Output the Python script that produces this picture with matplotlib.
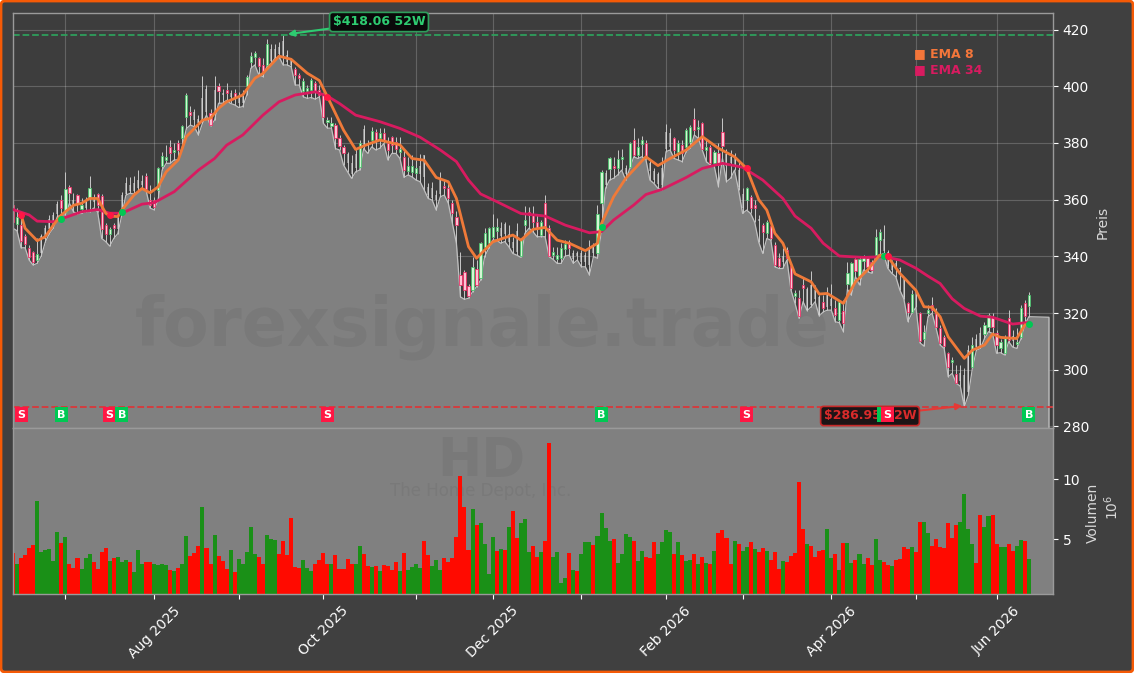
import matplotlib
matplotlib.use("Agg")
import matplotlib.pyplot as plt
from matplotlib.patches import FancyBboxPatch
from matplotlib.transforms import IdentityTransform

# Kursdaten
opens = [358,351.4,351,347,343.1,341.6,338.7,341,346,349.5,351,355,360,355.7,364.3,360,361.6,356.6,359.5,360.4,
         359,362,361.3,351,347.7,351,349.5,355.5,362,363,363,364,365,368.3,360,360,363.4,372,374,378.6,
         376.8,380,381.6,389.2,391,388,387,388,399,390.4,390.5,400,397,398.6,396.3,397.5,394,394,400,408.4,
         410.2,409.8,407.5,407.5,409,410,414,416,411,409.8,406,404,398.4,398.4,398.6,401.2,398.6,396.9,387.5,386,
         386.3,381.6,378.6,376,372.8,371,371.5,379,379,381,383.7,381.6,383.4,379.8,382,380.4,376.7,375.1,370.2,369.8,
         369.5,369,375.7,364.5,364,360,362,364.8,364,358.7,354,333.4,334.6,329.6,328.1,335.4,332.2,343.4,344.8,346.7,
         349,347,351.5,345,345,341.5,340,351,355.7,354.5,352.2,347.5,358.7,349.9,340.4,339,339.5,342.5,345.2,339,
         341,338,340.5,337,343.5,341,358.7,365,370.7,372,371,374.2,369,371.6,381.2,375.7,379.6,379.8,372.8,370,
         369,365,378,378.5,381.6,376.9,379.2,378.7,380.4,388.3,384.8,386.9,377.5,378.4,372.8,376.3,383.7,376,373,372,
         370.4,357,360,361,358,353,351,348.3,350.7,344,339.3,338,342.4,336.6,326.1,325.4,329.9,321,323,325,
         325.7,324,322,322.5,321.6,317.5,320.8,330.4,329.3,338.9,333,338.4,339.3,337.9,340.4,345.7,346,341.5,337.5,337.5,
         336,332,323.4,320.5,328,319.9,311,319.9,323,320.5,314.6,311.6,305.8,302.6,298.5,296,289,292,301,308,
         312.8,312.6,315.2,318.5,313,307.5,306,318.1,312,309,311.6,323.6,322.4]
highs = [359.9,357,353,348,344,342,346.3,348,351,354.6,355.7,359.6,361.6,369.8,365,362.2,362,360.4,361,368.3,
         362,362.2,362,351.6,350.4,351.6,355.2,362.8,368,368,368.5,370.4,368.7,369.5,365,361,371.6,376.9,379.2,381,
         379.8,381,386.3,397.5,393,392,389.8,403.6,400.4,392,403.6,401,399,401.2,398.6,398.9,398,398.6,403.9,412.2,
         412.5,410.4,409.8,416.5,415,415,415.7,418.06,412.8,410,406.9,404.5,402.8,400.4,403,402,400.4,397.5,389.2,389.2,
         386.9,382.8,379.2,376.9,375.7,378,381,386.3,381,385.7,385,385.1,385.1,382.2,382.4,382.2,382.2,377.5,375.1,375.7,
         374,376,375.7,365.7,366.3,363.4,369.8,366.9,366.3,359.8,355.9,341.6,335.1,330.4,339.9,338.7,345.2,349.9,350.4,354.9,
         353.4,352,352.2,351,346.9,351.6,346.3,357.7,357.5,357.7,354.6,352.8,361.6,351,343.4,343.4,344.6,345.7,345.7,342.2,
         342,342.2,341.6,345.7,344.6,358.1,370.4,370.4,375.1,375.1,377.5,377.7,372.2,380.4,385.1,381.6,382.4,381.2,373.9,371,
         369.8,375.1,386.7,385.1,382,381.2,381,385.1,386.3,392.2,388,387.5,381,379.2,377.5,379.8,388.7,378,377.5,376.3,
         373.4,364,364.6,361.6,360,354.6,351.6,352.8,351.6,345.2,341,342.8,343.4,337.5,328.1,328.1,332.2,329.3,334.9,329.9,
         326.3,326.3,329.3,330.4,324.6,324.6,324.6,338.1,338.1,339.3,339.9,340.4,340.1,338.7,349.5,349.5,351,342.2,338.7,338.7,
         336.3,332.2,324,328.1,328,320.5,315.8,322.8,325.5,321.6,315.8,312.2,306.3,304.6,301.6,301.6,300.5,308.7,311.6,312.6,
         314.9,316.9,319.9,319.9,314,311,312.2,321,314,314.6,322.8,324.6,327.5]
lows = [349.9,349,343,343,338.7,336.9,337.5,340,345,348,349.9,354,354.6,354.6,358.7,355.7,355,355.1,355.7,355.7,
        357,355.7,346.3,345.2,343.6,346.3,348,354.6,361.6,362.2,362,362.8,364,363.4,357,356.4,359.8,370.4,372.8,372.8,
        374,374,378.6,385,386.3,385.7,382.8,386.9,389.8,386,388,394,394,395,393.9,393.4,392.5,392.8,396.9,406.3,
        407.5,404,403.4,406.9,408,409.8,410.4,407.5,407.5,406.9,400.4,400.4,396.3,395.7,396,395.4,396.3,386.9,385.2,385.2,
        378,377.5,372.2,369.8,367.5,369.8,370.4,378,376.3,378.6,377.5,378.1,379.8,374,376.3,376.3,374.5,367.8,368.7,368,
        366.9,366.3,363.4,360.4,359.8,356.3,361,361.6,358.7,351.6,344.6,325.7,324.8,325.2,327.5,329.3,331.6,339.9,342.8,345.7,
        345.7,344.6,345.2,343.4,341,340.4,339.6,348.1,349.9,348.7,346.9,346.9,346.9,339.9,338.9,337.5,337.5,340.1,340.4,337.5,
        338.7,336.3,336.3,333.4,339.9,339.3,349.3,364,366.9,367.5,368.7,370.4,366.9,371,375.1,374.5,375.1,374.2,366.9,365.7,
        364,363.4,376.9,377.5,374.5,374,373.4,376.9,378.1,382.8,381.6,377.5,373.4,372.2,371.6,364.6,374.5,366.3,367.5,370.4,
        363.4,355.1,356.3,355.1,352,345,341,346.3,345.7,336.3,335.7,335.7,338.7,328.1,323.4,318.1,324,320.8,322.2,324,
        318.9,320.4,321,321,316.9,316.6,313.4,328.3,326.3,332.8,329.9,335.2,334.6,334,340.1,340.4,341,335.8,334,332.8,
        328.1,325,317,319.9,322,309.5,308.3,318.7,319.9,314.6,308.7,307.5,297.5,298.7,295.2,294.2,286.95,291,300.5,306.9,
        307.5,311,313.4,312.8,305.8,306,305.2,309.9,308,307.5,310.7,315.8,318.7]
closes = [352,353.9,345.5,344.3,339.9,338,340.7,347,350,353,354.5,358.5,357,363.6,362.4,358,358.7,358,357,364,
          361,358,349.5,348,349.8,350,354,361.5,366,365,366,367,366.5,363.6,358,357.5,371,375.5,375,376.3,
          377.6,377.5,386,396.9,389.8,391,388.5,396,391,386.3,398.5,398.4,397.5,397.7,397.5,396.3,395.7,396.5,403.4,410.6,
          411.6,407.1,404.8,414.9,413,413,411.5,410,408.5,407.5,404,402.8,401.8,399.2,402.2,398,396.9,389,388.2,387.1,
          381.6,379,376.3,372.8,369.2,376,380,385,380,384.2,381,383.4,381,377.5,379.3,377.7,378,370.4,372,372,
          371,372,368,361.6,360.4,361.5,367,364,360.4,355.1,351,329.9,328.1,326,336.3,329.9,344.6,348.3,349.9,350.2,
          350.2,350,348,348,343,349,345.7,352.8,354.5,352.2,349.9,352.2,349.9,340.2,341.6,340.4,342.8,344.3,342.8,341,
          340,341,338,343,341,354.9,369.8,369.5,374.5,371,374.2,375,371,379.8,375.7,378.7,381.2,375.1,370,367,
          365.5,371,384,383.5,377.5,379.8,376.3,384.5,385.5,384.5,385.7,377.7,378.7,373,376.9,372.2,378.9,372,375,375,
          364.5,362,364,356.9,357,352.5,348.7,352.2,346.3,337,336.6,340,339.3,328.7,326.9,318.9,328.7,328.5,330,328,
          319.3,321.6,327,325,319.3,324,316.6,334,337.5,334.9,338.9,340.1,336.3,335.2,346.9,348.7,342,336.5,335,335.5,
          335.5,325.5,320.5,326.7,322.2,310.2,313.4,321,321,315.2,309.3,308.5,300.8,303.4,295.4,299,298,307,308.7,311,
          308.1,315.8,319.3,314.9,308.7,309.9,311.6,310.5,310,309.9,321.6,318.9,326.3]

# Kerzen, die im Bild nur blass zu sehen sind
faint_idx = [7,8,9,10,11,15,18,20,26,27,28,29,30,31,32,45,46,47,48,50,52,54,56,57,64,65,66,67,68,69,83,84,85,87,88,
             101,102,103,104,105,106,121,122,123,124,125,139,140,141,142,143,144,147,152,158,159,160,161,162,163,
             177,178,179,180,181,185,191,197,198,199,200,202,203,216,217,218,219,220,221,224,235,236,237,239,240,248]

# Volumen in Mio.
volumes = [3.83,2.9,3.4,3.67,4.25,4.5,8.17,3.9,4.08,4.17,3.17,5.58,4.67,5.17,2.96,2.58,3.4,2.5,3.4,3.75,
           3.08,2.5,3.9,4.25,3.17,3.4,3.5,3.08,3.25,3.08,2.25,4.08,2.92,3.08,3.08,2.96,2.8,2.92,2.8,2.42,
           2.33,2.58,2.92,5.25,3.58,3.83,4.42,7.67,4.25,2.92,5.33,3.58,3.17,2.5,4.08,2.25,3.33,2.96,3.9,6,
           3.75,3.5,2.92,5.33,5,4.92,3.75,4.83,3.67,6.75,2.67,2.58,3.25,2.58,2.33,2.96,3.25,3.83,2.96,2.96,
           3.67,2.5,2.5,3.33,2.96,2.92,4.42,3.75,2.75,2.67,2.75,2.33,2.83,2.75,2.42,3.08,2.33,3.83,2.42,2.67,
           2.92,2.58,4.83,3.67,2.75,3.25,2.42,3.42,3.08,3.42,5.17,10.25,7.67,4.08,7.5,6.17,6.33,4.58,2.08,5.17,
           4,4.17,4.08,6,7.33,5.08,6.33,6.67,3.92,4.42,3.5,3.92,4.83,13,3.5,3.92,1.33,1.75,3.83,2.42,
           2.33,3.75,4.75,4.75,4.5,5.25,7.17,5.92,4.83,5,3,3.75,5.42,5.17,4.83,3.17,4,3.5,3.42,4.75,
           3.75,4.75,5.75,5.58,3.75,4.75,3.67,3.17,3.25,3.75,2.92,3.5,3,2.92,4,5.5,5.75,5.08,2.92,4.83,
           4.58,4,4.33,4.75,4.17,3.9,4.25,4,3.25,3.92,2.5,3.17,3.08,3.58,3.83,9.75,5.83,4.58,4.42,3.5,
           4,4.08,5.83,3.42,3.75,2.42,4.67,4.67,3,3.25,3.75,2.92,3.42,2.83,5,3.25,3.08,2.83,2.75,3.25,
           3.33,4.33,4.17,4.33,3.92,6.42,6.42,5.5,4.42,5,4.33,4.25,6.33,5.08,6.17,6.42,8.75,5.83,4.58,3,
           7,6,6.92,7,4.58,4.33,4.33,4.58,4,4.42,4.92,4.83,3.33]
vol_colors = ("rgrrrrgggg" "ggrgrrrggg" "rrrrgrgggr" "gggrrggggr" "grggrrrgrr"
              "grrrgrgggg" "grrgggrrrr" "rrgggrrrrg" "rrrrrggrrg" "rgrrrrgrgg"
              "ggrrgggrrr" "rrrrgrgggg" "rgrgrrgggr" "rgrrggggrg" "rgggrggggr"
              "ggggrggrrr" "ggggrgrggr" "grgrgrrrrg" "rggrgrrgrr" "rgrrrrrgrr"
              "rrggrgrggr" "ggrrggrrgr" "rrrgrrggrr" "rrrrrggggr" "rggrrggrrg" "grg")

# EMA-Linien, Stuetzpunkte aus dem Bild
ema8_x = [2,3,6,8,10,12,15,17,19,21,23,24,26,27,30,32,34,36,38,41,43,45,47,49,51,53,57,60,62,66,69,73,76,78,82,85,
          88,91,96,99,102,105,108,110,113,115,119,124,126,129,132,135,138,142,145,146,149,152,157,160,163,167,171,
          175,179,182,185,187,189,191,194,198,200,202,206,209,212,215,217,220,222,224,226,228,230,232,236,238,241,
          243,245,249,251,252]
ema8_y = [354.6,349.9,345.5,346.9,351,354.6,358,358.7,360.4,360.4,355.2,354.2,354,356.3,361.6,363.9,362.4,364.5,369.8,374,
          382.2,385.1,388,388.7,392.2,394.5,396.9,402.8,404.5,410.6,409.5,404.6,402,396.3,384.5,377.7,
          379.5,381,379.3,374.5,373.9,367.8,366.3,360.4,343.4,339.3,345.1,347.5,345.7,349.5,350.2,345.7,344.6,342,344.6,351.6,
          361,367.5,375.1,372,374.5,377.5,382.2,378.1,375.1,371,360,356.3,348.1,344.6,333.8,331,326.7,326.9,323.4,331,335.2,
          340.4,339.9,334,331,328,322.2,322,318.7,311.6,304,306.9,308.7,312.6,311.4,311,315.8,316]
ema34_x = [0,4,6,10,12,17,21,24,27,32,35,40,46,50,53,57,62,66,70,75,78,81,85,91,96,101,106,110,113,116,120,126,132,137,
           143,146,149,154,157,161,167,171,176,181,186,191,194,198,201,205,211,216,220,224,227,230,233,236,240,243,248,252]
ema34_y = [356.5,354.6,352.4,352.2,353.2,355.7,356.5,355.2,355.2,358.4,358.9,362.8,370.4,374.5,379.2,382.8,389.8,394.5,396.9,
           398,396.5,393.9,389.8,387.5,385.1,382,377.5,373.4,366.9,362,359.3,355.1,354.2,351,348.3,348.7,352.8,358.1,361.8,363.6,
           367.8,371,372.8,371.4,366.9,360.4,354.2,349.9,344.6,340.1,339.6,339.9,338.7,335.8,333,330.4,325,321.6,318.9,318.5,316.1,316.7]

# Signale: Index, Kurs am Kreuzungspunkt, Typ
signal_idx = [2,12,24,27,78,146,182,216,217,252]
signal_price = [354.6,353,354.6,355.5,396.3,350.5,371,340,340,316]
signal_type = ["S","B","S","B","S","B","S","B","S","B"]

month_idx = [13,35,56,77,100,119,141,162,181,203,224,244]
month_labels = ["", "Aug 2025", "", "Oct 2025", "", "Dec 2025", "", "Feb 2026", "", "Apr 2026", "", "Jun 2026"]

high_52w = 418.06
low_52w = 286.95
area_end = 257
area_level = 318.5

W, H = 1134, 673
BG = "#404040"
GRAY = "#808080"
GREEN = "#00c853"
RED = "#ff1744"
ORANGE = "#ef7a39"
CRIMSON = "#d81b60"


def px(x0, ytop, x1, ybot):
    return [x0 / W, 1 - ybot / H, (x1 - x0) / W, (ybot - ytop) / H]


fig = plt.figure(figsize=(W / 100, H / 100), dpi=100, facecolor="white")
fig.add_artist(FancyBboxPatch((1, 1), W - 2, H - 2, boxstyle="round,pad=0,rounding_size=4",
                              fc=BG, ec="#f55a06", lw=2, transform=IdentityTransform(), zorder=-10))

ax = fig.add_axes(px(13, 13, 1053, 428), facecolor="#3d3d3d")
ax2 = fig.add_axes(px(13, 428, 1053, 594), facecolor=GRAY, sharex=ax)

idx = list(range(len(closes)))

# Flaeche unter den Tiefs
ax.fill_between(idx + [area_end], lows + [area_level], 270, color=GRAY, lw=0, zorder=1.5)
ax.plot(idx + [area_end, area_end], lows + [area_level, 270], color="#c0c0c0", lw=0.9, zorder=1.6)

ax.text(0.451, 0.245, "forexsignale.trade", transform=ax.transAxes, ha="center", va="center",
        fontsize=48, fontweight="bold", color="black", alpha=0.05, zorder=1.7)

# Kerzen
ax.vlines(idx, lows, highs, color="#c8c8c8", lw=0.7, zorder=2)
solid = [i for i in idx if i not in faint_idx]
up = [i for i in solid if closes[i] >= opens[i]]
down = [i for i in solid if closes[i] < opens[i]]
ax.bar(up, [closes[i] - opens[i] for i in up], bottom=[opens[i] for i in up], width=0.55,
       color="#d4f7d4", edgecolor="#45c46a", lw=0.55, zorder=2.2)
ax.bar(down, [opens[i] - closes[i] for i in down], bottom=[closes[i] for i in down], width=0.55,
       color="#fbc4d4", edgecolor="#ee2a62", lw=0.55, zorder=2.2)
ax.bar(faint_idx, [abs(closes[i] - opens[i]) for i in faint_idx], bottom=[min(opens[i], closes[i]) for i in faint_idx],
       width=0.5, color="#dcdcdc", alpha=0.5, lw=0, zorder=2.1)

ax.plot(ema34_x, ema34_y, color=CRIMSON, lw=2, zorder=3)
ax.plot(ema8_x, ema8_y, color=ORANGE, lw=2, zorder=3.1)

ax.axhline(high_52w, color="#2e9e5b", ls="--", lw=1.3, zorder=2.5)
ax.axhline(low_52w, color="#d9373a", ls="--", lw=1.3, zorder=2.5)

ax.annotate("$418.06 52W", xy=(68.2, high_52w + 0.3), xytext=(379, H - 22), textcoords="figure pixels",
            ha="center", va="center", color="#2ecc71", fontsize=9, fontweight="bold", zorder=6,
            bbox=dict(boxstyle="round,pad=0.25", fc="#0a0a0a", ec="#2e9e5b", lw=1.2),
            arrowprops=dict(arrowstyle="-|>", color="#2ecc71", lw=1.5, shrinkA=0, shrinkB=0))
ax.annotate("$286.95 52W", xy=(235.5, low_52w + 0.3), xytext=(870, H - 416), textcoords="figure pixels",
            ha="center", va="center", color="#d92b2b", fontsize=9, fontweight="bold", zorder=6,
            bbox=dict(boxstyle="round,pad=0.25", fc="#1c1416", ec="#c62828", lw=1.2),
            arrowprops=dict(arrowstyle="-|>", color="#e53935", lw=1.5, shrinkA=0, shrinkB=0))

for i, p, t in zip(signal_idx, signal_price, signal_type):
    c = GREEN if t == "B" else RED
    ax.plot(i, p, "o", color=c, ms=4, zorder=4)
    ax.text(i, 284.2, t, color="white", fontsize=8, fontweight="bold", ha="center", va="center", zorder=7,
            bbox=dict(boxstyle="square,pad=0.22", fc=c, ec="none"))

fig.text(914 / W, 1 - 54 / H, "■ EMA 8", color="#f4763a", fontsize=9, fontweight="bold", va="center")
fig.text(914 / W, 1 - 70 / H, "■ EMA 34", color=CRIMSON, fontsize=9, fontweight="bold", va="center")

ax.set_xlim(0, 258)
ax.set_ylim(279.44, 425.82)
ax.set_yticks(range(280, 421, 20))
ax.yaxis.tick_right()
fig.text(1103 / W, 1 - 222 / H, "Preis", color="#d8d8d8", fontsize=10, rotation=90, ha="center", va="center")
ax.grid(True, color="white", alpha=0.2, lw=0.8)
ax.set_axisbelow(True)
ax.tick_params(axis="y", colors="white", labelsize=10, length=3.5)
ax.tick_params(axis="x", bottom=False, labelbottom=False)

# Volumen
ax2.bar(idx, volumes, width=1.0, lw=0,
        color=["#ff0a00" if c == "r" else "#1a9017" for c in vol_colors])
ax2.set_ylim(0.42, 14.25)
ax2.set_yticks([5, 10])
ax2.yaxis.tick_right()
ax2.set_xticks(month_idx)
ax2.set_xticklabels(month_labels, rotation=45, ha="center", fontsize=10)
ax2.tick_params(colors="white", labelsize=10, length=3.5)
ax2.text(0.45, 0.8, "HD", transform=ax2.transAxes, ha="center", va="center", fontsize=38,
         fontweight="bold", color="black", alpha=0.05, zorder=0.5)
ax2.text(0.45, 0.62, "The Home Depot, Inc.", transform=ax2.transAxes, ha="center", va="center",
         fontsize=12, color="black", alpha=0.05, zorder=0.5)
fig.text(1093 / W, 1 - 513 / H, "Volumen", color="#d8d8d8", fontsize=10, rotation=90, ha="center", va="center")
fig.text(1112 / W, 1 - 507 / H, r"$10^6$", color="#d8d8d8", fontsize=10, rotation=90, ha="center", va="center")

for a in (ax, ax2):
    for s in a.spines.values():
        s.set_color("#9a9a9a")
        s.set_linewidth(1.0)

fig.savefig("out.png", dpi=100, facecolor=fig.get_facecolor())
